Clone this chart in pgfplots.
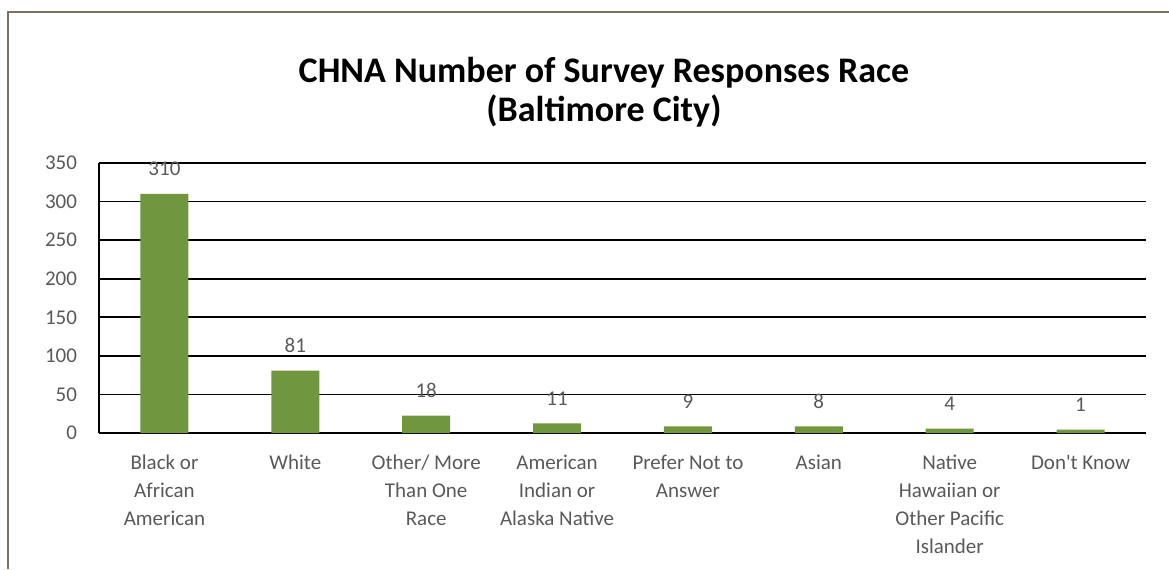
\documentclass[border=0pt]{standalone}
\usepackage{pgfplots}
\pgfplotsset{compat=1.18}
\usepackage{pgfplotstable}
\usepackage{fontspec}
\setmainfont{Carlito}
\definecolor{bargreen}{RGB}{112,151,62}
\definecolor{txtgray}{RGB}{89,89,89}
\definecolor{framec}{RGB}{125,113,99}
\pgfplotstableread{
x h lab
0 310 310
1 81 81
2 22.5 18
3 12.5 11
4 8.5 9
5 8.5 8
6 5.6 4
7 4.3 1
}\datatable

\begin{document}
\begin{tikzpicture}
\path[use as bounding box] (0,0) rectangle (584.5pt,284.5pt);
\draw[framec, line width=1.3pt] (4pt,0) -- (4pt,278.5pt) -- (590pt,278.5pt);
\node[align=center, font=\fontsize{18}{19.5}\selectfont\bfseries] at (302pt,238.5pt) {CHNA Number of Survey Responses Race\\(Baltimore City)};
\begin{axis}[
 at={(49.5pt,68pt)}, anchor=south west,
 scale only axis, width=523.5pt, height=135pt,
 xmin=-0.5, xmax=7.5, ymin=0, ymax=350,
 ytick={0,50,...,350},
 xtick={0,...,7},
 xticklabels={{Black or\\African\\American},{White},{Other/ More\\Than One\\Race},{American\\Indian or\\Alaska Native},{Prefer Not to\\Answer},{Asian},{Native\\Hawaiian or\\Other Pacific\\Islander},{Don\textquotesingle t Know}},
 axis x line*=bottom, axis y line*=left,
 axis line style={black, line width=0.9pt},
 ymajorgrids, grid style={black, line width=0.9pt},
 major tick length=0,
 tick label style={font=\fontsize{10.5}{14}\selectfont, text=txtgray},
 yticklabel style={xshift=-7.5pt},
 xticklabel style={align=center, yshift=-7.5pt},
 /pgf/number format/assume math mode=true,
 ybar, bar width=24pt,
 nodes near coords, point meta=explicit symbolic,
 every node near coord/.append style={font=\fontsize{10.5}{14}\selectfont, text=txtgray, yshift=5.5pt},
 clip=false,
]
\addplot[fill=bargreen, draw=none] table[x=x,y=h,meta=lab]{\datatable};
\end{axis}
\end{tikzpicture}
\end{document}
